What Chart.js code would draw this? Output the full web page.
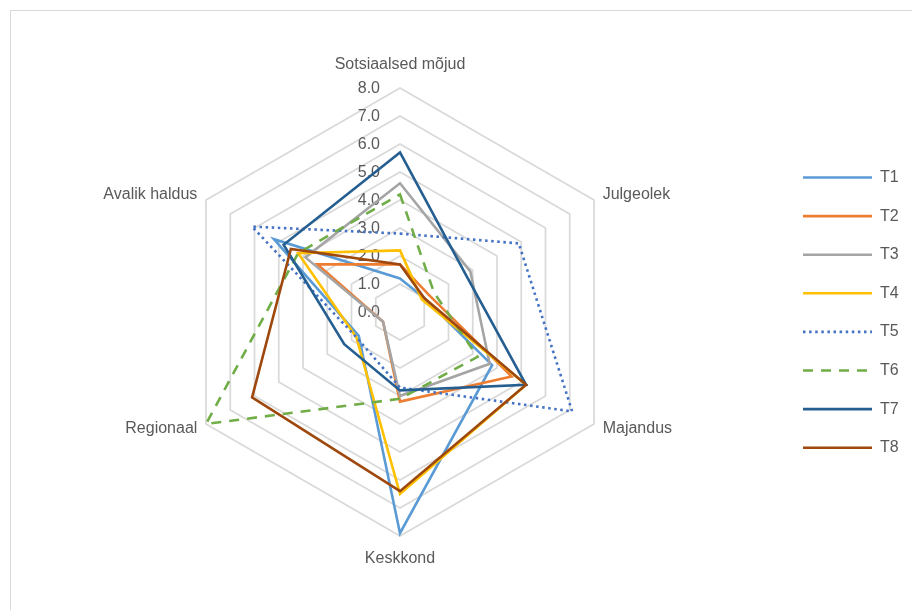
<!DOCTYPE html>
<html>
<head>
<meta charset="utf-8">
<script src="https://cdn.jsdelivr.net/npm/chart.js@4.4.1/dist/chart.umd.min.js"></script>
<style>
  body { margin: 0; background: #fff; }
  #wrap { position: relative; width: 912px; height: 610px; overflow: hidden; }
  #frame { position: absolute; left: 10px; top: 10px; width: 920px; height: 620px; border: 1px solid #d9d9d9; }
  canvas { position: absolute; left: 0; top: 0; }
</style>
</head>
<body>
<div id="wrap">
  <div id="frame"></div>
  <canvas id="radar" width="912" height="610"></canvas>
</div>
<script>
// CATEGORIES + SERIES
const labels = ["Sotsiaalsed mõjud", "Julgeolek", "Majandus", "Keskkond", "Regionaal", "Avalik haldus"];
const seriesNames = ["T1", "T2", "T3", "T4", "T5", "T6", "T7", "T8"];
const t1 = [1.2, 1.0, 3.8, 7.9, 1.7, 5.2];
const t2 = [1.7, 1.2, 4.6, 3.2, 0.7, 3.4];
const t3 = [4.6, 2.9, 3.7, 3.0, 0.7, 3.9];
const t4 = [2.2, 0.9, 5.2, 6.5, 1.8, 4.2];
const t5 = [2.8, 4.9, 7.1, 2.7, 1.8, 6.1];
const t6 = [4.2, 1.4, 3.2, 3.1, 8.0, 4.2];
const t7 = [5.7, 2.7, 5.2, 2.8, 2.3, 4.8];
const t8 = [1.7, 1.0, 5.2, 6.4, 6.1, 4.5];
const tickValues = [0, 1, 2, 3, 4, 5, 6, 7, 8];

const FONT = "'Liberation Sans', Arial, sans-serif";
const TEXT = "#595959";

const styles = [
  { color: "#5B9BD5", dash: [] },
  { color: "#ED7D31", dash: [] },
  { color: "#A5A5A5", dash: [] },
  { color: "#FFC000", dash: [] },
  { color: "#4472C4", dash: [2.5, 3.6] },
  { color: "#70AD47", dash: [10, 8] },
  { color: "#255E91", dash: [] },
  { color: "#9E480E", dash: [] }
];

const values = [t1, t2, t3, t4, t5, t6, t7, t8];
// later series on top, like excel
const datasets = values.map((v, i) => ({
  label: seriesNames[i],
  data: v,
  order: values.length - i,
  borderColor: styles[i].color,
  backgroundColor: "transparent",
  borderDash: styles[i].dash,
  borderWidth: 2.6,
  pointRadius: 0,
  pointHoverRadius: 0,
  fill: false
}));

// tick labels left of the vertical axis, drawn under the series
const tickLabelPlugin = {
  id: "tickLabels",
  beforeDatasetsDraw(chart) {
    const s = chart.scales.r;
    const ctx = chart.ctx;
    ctx.save();
    ctx.font = "16px " + FONT;
    ctx.fillStyle = TEXT;
    ctx.textAlign = "right";
    ctx.textBaseline = "middle";
    tickValues.forEach(v => {
      const d = s.getDistanceFromCenterForValue(v);
      ctx.fillText(v.toFixed(1), s.xCenter - 20, s.yCenter - d + 1);
    });
    ctx.restore();
  }
};

// category labels round the outer ring
const pointLabelPlugin = {
  id: "catLabels",
  afterDraw(chart) {
    const s = chart.scales.r;
    const ctx = chart.ctx;
    ctx.save();
    ctx.font = "16px " + FONT;
    ctx.fillStyle = TEXT;
    ctx.textBaseline = "middle";
    labels.forEach((lab, i) => {
      const vertical = (i === 0 || i === 3);
      const p = s.getPointPosition(i, s.drawingArea + (vertical ? 23 : 10));
      if (vertical) ctx.textAlign = "center";
      else ctx.textAlign = p.x > s.xCenter ? "left" : "right";
      ctx.fillText(lab, p.x, p.y);
    });
    ctx.restore();
  }
};

// legend on the right, line samples
const legendPlugin = {
  id: "sideLegend",
  afterDraw(chart) {
    const ctx = chart.ctx;
    ctx.save();
    ctx.font = "16px " + FONT;
    ctx.textBaseline = "middle";
    ctx.textAlign = "left";
    chart.data.datasets.forEach((ds, i) => {
      const y = 177.5 + i * 38.6;
      ctx.strokeStyle = ds.borderColor;
      ctx.lineWidth = ds.borderWidth;
      ctx.setLineDash(ds.borderDash);
      ctx.beginPath();
      ctx.moveTo(803, y);
      ctx.lineTo(872, y);
      ctx.stroke();
      ctx.setLineDash([]);
      ctx.fillStyle = TEXT;
      ctx.fillText(ds.label, 880, y);
    });
    ctx.restore();
  }
};

new Chart(document.getElementById("radar"), {
  type: "radar",
  data: { labels, datasets },
  options: {
    responsive: false,
    animation: false,
    layout: { padding: { left: 176, top: 88, right: 288, bottom: 74 } },
    plugins: { legend: { display: false }, tooltip: { enabled: false } },
    elements: { line: { tension: 0 } },
    scales: {
      r: {
        min: 0, max: 8,
        ticks: { stepSize: 1, display: false },
        grid: { color: "#d9d9d9", lineWidth: 1.75 },
        angleLines: { display: false },
        pointLabels: { display: false }
      }
    }
  },
  plugins: [tickLabelPlugin, pointLabelPlugin, legendPlugin]
});
</script>
</body>
</html>
